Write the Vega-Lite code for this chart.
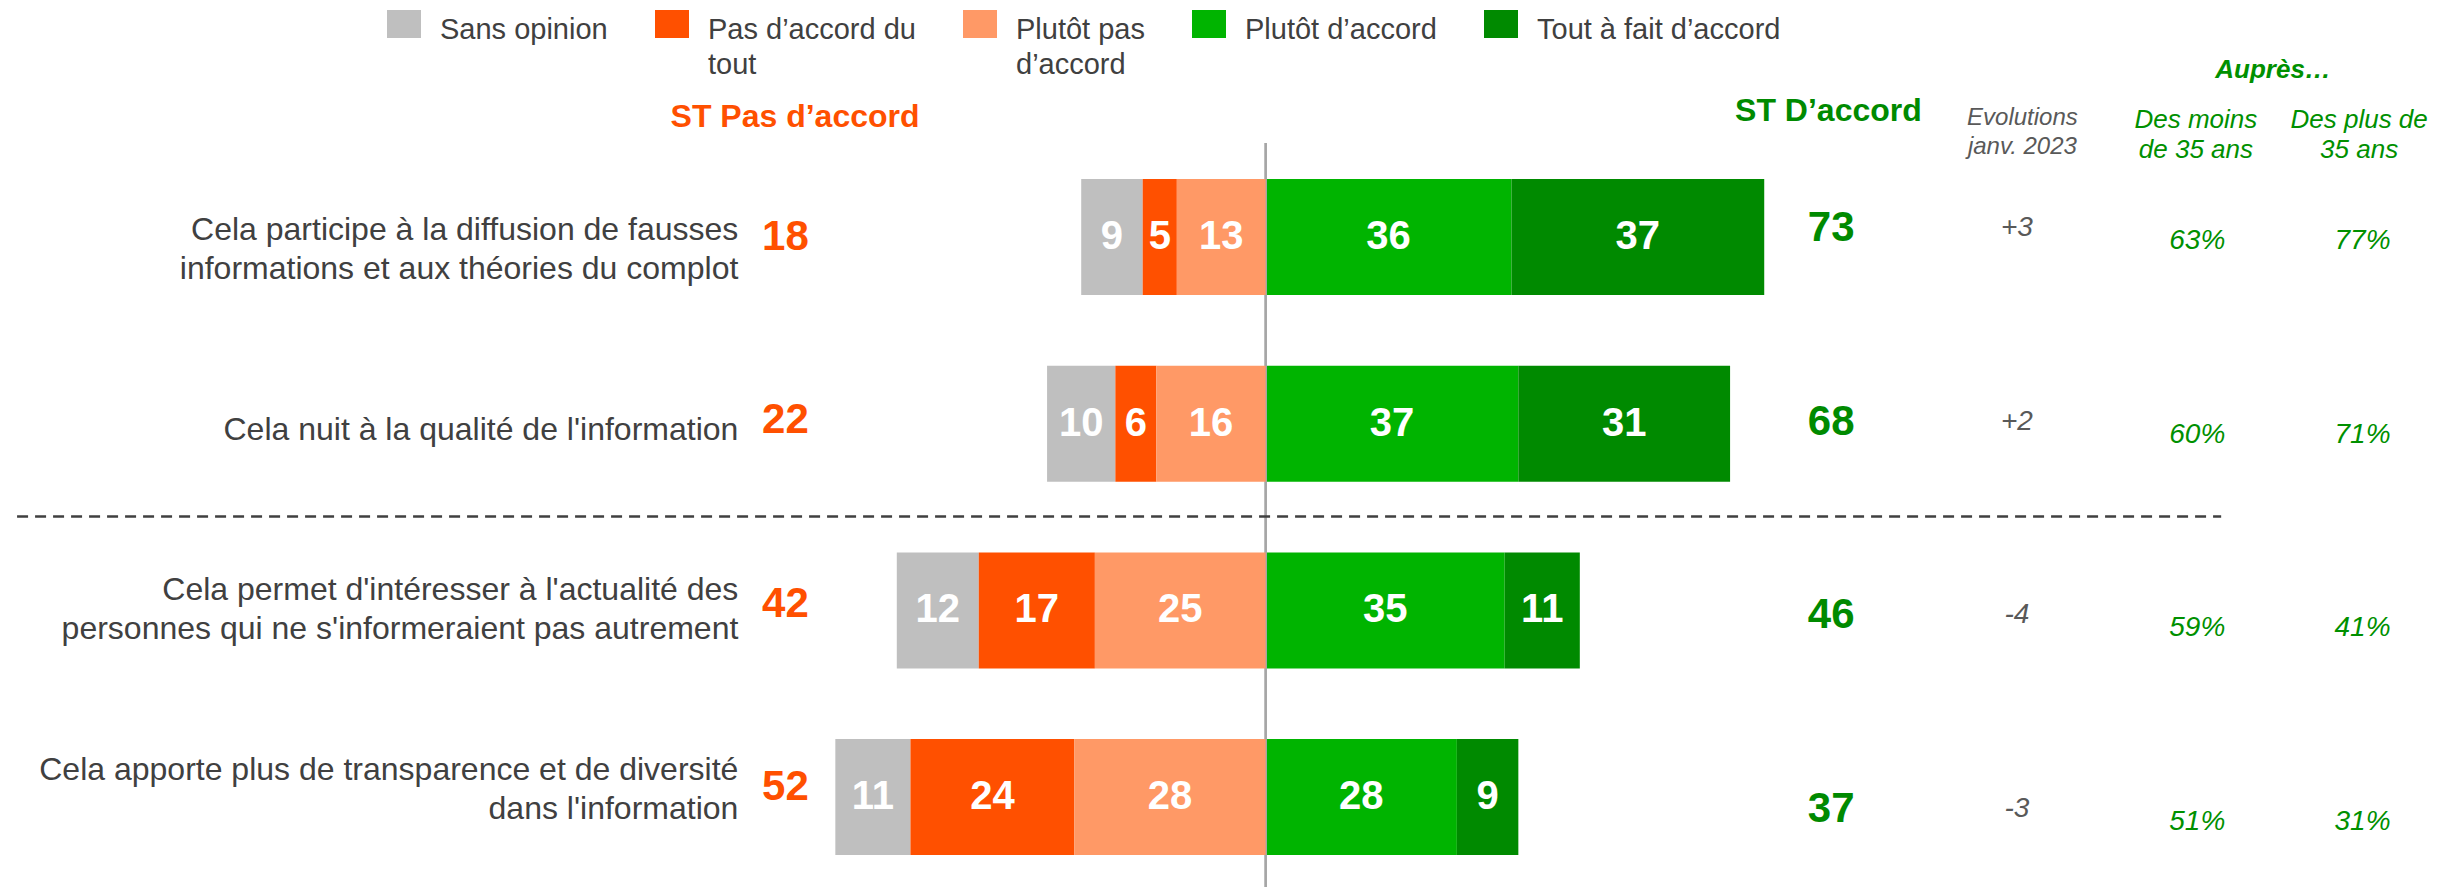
{
  "$schema": "https://vega.github.io/schema/vega-lite/v6.json",
  "width": 2437,
  "height": 887,
  "autosize": "none",
  "padding": 0,
  "background": "white",
  "config": {
    "font": "Liberation Sans",
    "view": {"stroke": null},
    "axis": {"disable": true},
    "locale": {"number": {"decimal": ",", "thousands": " ", "grouping": [3], "currency": ["", " €"], "minus": "-"}}
  },
  "datasets": {
    "statements": [
      {"id": "r1", "label": ["Cela participe à la diffusion de fausses", "informations et aux théories du complot"], "st_pas": 18, "st_acc": 73, "evol": 3, "moins35": 0.63, "plus35": 0.77},
      {"id": "r2", "label": ["Cela nuit à la qualité de l'information"], "st_pas": 22, "st_acc": 68, "evol": 2, "moins35": 0.60, "plus35": 0.71},
      {"id": "r3", "label": ["Cela permet d'intéresser à l'actualité des", "personnes qui ne s'informeraient pas autrement"], "st_pas": 42, "st_acc": 46, "evol": -4, "moins35": 0.59, "plus35": 0.41},
      {"id": "r4", "label": ["Cela apporte plus de transparence et de diversité", "dans l'information"], "st_pas": 52, "st_acc": 37, "evol": -3, "moins35": 0.51, "plus35": 0.31}
    ],
    "responses": [
      {"id": "r1", "cat": "Sans opinion", "value": 9},
      {"id": "r1", "cat": "Pas d’accord du tout", "value": 5},
      {"id": "r1", "cat": "Plutôt pas d’accord", "value": 13},
      {"id": "r1", "cat": "Plutôt d’accord", "value": 36},
      {"id": "r1", "cat": "Tout à fait d’accord", "value": 37},
      {"id": "r2", "cat": "Sans opinion", "value": 10},
      {"id": "r2", "cat": "Pas d’accord du tout", "value": 6},
      {"id": "r2", "cat": "Plutôt pas d’accord", "value": 16},
      {"id": "r2", "cat": "Plutôt d’accord", "value": 37},
      {"id": "r2", "cat": "Tout à fait d’accord", "value": 31},
      {"id": "r3", "cat": "Sans opinion", "value": 12},
      {"id": "r3", "cat": "Pas d’accord du tout", "value": 17},
      {"id": "r3", "cat": "Plutôt pas d’accord", "value": 25},
      {"id": "r3", "cat": "Plutôt d’accord", "value": 35},
      {"id": "r3", "cat": "Tout à fait d’accord", "value": 11},
      {"id": "r4", "cat": "Sans opinion", "value": 11},
      {"id": "r4", "cat": "Pas d’accord du tout", "value": 24},
      {"id": "r4", "cat": "Plutôt pas d’accord", "value": 28},
      {"id": "r4", "cat": "Plutôt d’accord", "value": 28},
      {"id": "r4", "cat": "Tout à fait d’accord", "value": 9}
    ],
    "levels": [
      {"cat": "Sans opinion", "level": 0},
      {"cat": "Pas d’accord du tout", "level": 1},
      {"cat": "Plutôt pas d’accord", "level": 2},
      {"cat": "Plutôt d’accord", "level": 3},
      {"cat": "Tout à fait d’accord", "level": 4}
    ]
  },
  "layer": [
    {
      "layer": [
        {
          "data": {"name": "responses"},
          "transform": [
            {"lookup": "cat", "from": {"data": {"name": "levels"}, "key": "cat", "fields": ["level"]}},
            {"filter": "datum.level >= 3"}
          ],
          "mark": {"type": "bar", "strokeWidth": 0},
          "encoding": {
            "y": {"field": "id", "type": "nominal", "axis": null, "scale": {"domain": ["r1", "r2", "r3", "r4"], "paddingInner": 0.3787, "paddingOuter": 0.5648, "align": 0.8487}},
            "x": {"field": "value", "type": "quantitative", "stack": "zero", "axis": null, "scale": {"domain": [-185.3, 171.5], "nice": false, "zero": false}},
            "color": {
              "field": "cat", "type": "nominal",
              "scale": {"domain": ["Sans opinion", "Pas d’accord du tout", "Plutôt pas d’accord", "Plutôt d’accord", "Tout à fait d’accord"], "range": ["#BFBFBF", "#FF5000", "#FF9966", "#00B400", "#008A00"]},
              "legend": {
                "orient": "none", "legendX": 387, "legendY": -1, "direction": "horizontal", "title": null,
                "symbolType": "M-1,-0.353H1V1.294H-1Z", "symbolSize": 1156, "symbolStrokeWidth": 0, "symbolOpacity": 1,
                "labelFontSize": 29, "labelColor": "#404040", "labelLimit": 500, "labelOffset": 19, "columnPadding": 47,
                "padding": 0, "labelBaseline": "top",
                "labelExpr": "datum.label == 'Pas d’accord du tout' ? ['Pas d’accord du', 'tout'] : datum.label == 'Plutôt pas d’accord' ? ['Plutôt pas', 'd’accord'] : [datum.label, '']",
                "encode": {"labels": {"update": {"lineHeight": {"value": 35}}}}
              }
            },
            "order": {"field": "level", "sort": "ascending"}
          }
        },
        {
          "data": {"name": "responses"},
          "transform": [
            {"lookup": "cat", "from": {"data": {"name": "levels"}, "key": "cat", "fields": ["level"]}},
            {"filter": "datum.level >= 3"}
          ],
          "mark": {"type": "text", "color": "white", "fontWeight": "bold", "fontSize": 40, "baseline": "middle"},
          "encoding": {
            "y": {"field": "id", "type": "nominal", "axis": null},
            "x": {"field": "value", "type": "quantitative", "stack": "zero", "bandPosition": 0.5, "axis": null},
            "detail": {"field": "cat"},
            "order": {"field": "level", "sort": "ascending"},
            "text": {"field": "value", "type": "quantitative"}
          }
        },
        {
          "data": {"values": [{}]},
          "mark": {"type": "rule", "color": "#A6A6A6", "strokeWidth": 2.7},
          "encoding": {
            "x": {"datum": 0, "type": "quantitative"},
            "y": {"datum": "r1", "type": "nominal", "bandPosition": -0.31},
            "y2": {"datum": "r4", "bandPosition": 1.28}
          }
        },
        {
          "data": {"values": [{}]},
          "mark": {"type": "rule", "color": "#404040", "strokeWidth": 2.5, "strokeDash": [11, 7]},
          "encoding": {
            "x": {"datum": -182.8, "type": "quantitative"},
            "x2": {"datum": 139.9},
            "y": {"datum": "r2", "type": "nominal", "bandPosition": 1.3}
          }
        },
        {
          "data": {"values": [{}]},
          "mark": {"type": "text", "text": "ST Pas d’accord", "color": "#FF5000", "fontWeight": "bold", "fontSize": 32, "dy": -119.5},
          "encoding": {"x": {"datum": -68.9, "type": "quantitative"}, "y": {"datum": "r1", "type": "nominal"}}
        },
        {
          "data": {"values": [{}]},
          "mark": {"type": "text", "text": "ST D’accord", "color": "#008A00", "fontWeight": "bold", "fontSize": 32, "dy": -125.5},
          "encoding": {"x": {"datum": 82.4, "type": "quantitative"}, "y": {"datum": "r1", "type": "nominal"}}
        },
        {
          "data": {"values": [{}]},
          "mark": {"type": "text", "text": ["Evolutions", "janv. 2023"], "color": "#595959", "fontStyle": "italic", "fontSize": 24, "lineHeight": 29, "dy": -118.5},
          "encoding": {"x": {"datum": 110.8, "type": "quantitative"}, "y": {"datum": "r1", "type": "nominal"}}
        },
        {
          "data": {"values": [{}]},
          "mark": {"type": "text", "text": "Auprès…", "color": "#009000", "fontStyle": "italic", "fontWeight": "bold", "fontSize": 26, "dy": -167},
          "encoding": {"x": {"datum": 147.5, "type": "quantitative"}, "y": {"datum": "r1", "type": "nominal"}}
        },
        {
          "data": {"values": [{}]},
          "mark": {"type": "text", "text": ["Des moins", "de 35 ans"], "color": "#009000", "fontStyle": "italic", "fontSize": 26, "lineHeight": 30, "dy": -116.5},
          "encoding": {"x": {"datum": 136.2, "type": "quantitative"}, "y": {"datum": "r1", "type": "nominal"}}
        },
        {
          "data": {"values": [{}]},
          "mark": {"type": "text", "text": ["Des plus de", "35 ans"], "color": "#009000", "fontStyle": "italic", "fontSize": 26, "lineHeight": 30, "dy": -116.5},
          "encoding": {"x": {"datum": 160.1, "type": "quantitative"}, "y": {"datum": "r1", "type": "nominal"}}
        }
      ]
    },
    {
      "layer": [
        {
          "data": {"name": "responses"},
          "transform": [
            {"lookup": "cat", "from": {"data": {"name": "levels"}, "key": "cat", "fields": ["level"]}},
            {"filter": "datum.level <= 2"}
          ],
          "mark": {"type": "bar", "strokeWidth": 0},
          "encoding": {
            "y": {"field": "id", "type": "nominal", "axis": null, "scale": {"domain": ["r1", "r2", "r3", "r4"], "paddingInner": 0.3787, "paddingOuter": 0.5648, "align": 0.8487}},
            "x": {"field": "value", "type": "quantitative", "stack": "zero", "axis": null, "scale": {"domain": [-171.5, 185.3], "reverse": true, "nice": false, "zero": false}},
            "color": {"field": "cat", "type": "nominal"},
            "order": {"field": "level", "sort": "descending"}
          }
        },
        {
          "data": {"name": "responses"},
          "transform": [
            {"lookup": "cat", "from": {"data": {"name": "levels"}, "key": "cat", "fields": ["level"]}},
            {"filter": "datum.level <= 2"}
          ],
          "mark": {"type": "text", "color": "white", "fontWeight": "bold", "fontSize": 40, "baseline": "middle"},
          "encoding": {
            "y": {"field": "id", "type": "nominal", "axis": null},
            "x": {"field": "value", "type": "quantitative", "stack": "zero", "bandPosition": 0.5, "axis": null},
            "detail": {"field": "cat"},
            "order": {"field": "level", "sort": "descending"},
            "text": {"field": "value", "type": "quantitative"}
          }
        }
      ]
    },
    {
      "data": {"name": "statements"},
      "encoding": {
        "y": {"field": "id", "type": "nominal", "axis": null, "scale": {"type": "point", "domain": ["r1", "r2", "r3", "r4"], "padding": 0.79, "align": 0.745}}
      },
      "layer": [
        {
          "mark": {"type": "text", "color": "#008A00", "fontWeight": "bold", "fontSize": 42},
          "encoding": {"x": {"datum": 82.8, "type": "quantitative", "scale": {"domain": [-185.3, 171.5], "nice": false, "zero": false}}, "text": {"field": "st_acc", "type": "quantitative"}}
        },
        {
          "mark": {"type": "text", "color": "#595959", "fontStyle": "italic", "fontSize": 28},
          "encoding": {"x": {"datum": 110.0, "type": "quantitative"}, "text": {"field": "evol", "type": "quantitative", "format": "+d"}}
        },
        {
          "mark": {"type": "text", "color": "#009000", "fontStyle": "italic", "fontSize": 28, "dy": 13},
          "encoding": {"x": {"datum": 136.4, "type": "quantitative"}, "text": {"field": "moins35", "type": "quantitative", "format": ".0%"}}
        },
        {
          "mark": {"type": "text", "color": "#009000", "fontStyle": "italic", "fontSize": 28, "dy": 13},
          "encoding": {"x": {"datum": 160.6, "type": "quantitative"}, "text": {"field": "plus35", "type": "quantitative", "format": ".0%"}}
        }
      ]
    },
    {
      "data": {"name": "statements"},
      "mark": {"type": "text", "color": "#FF5000", "fontWeight": "bold", "fontSize": 42},
      "encoding": {
        "y": {"field": "id", "type": "nominal", "axis": null, "scale": {"type": "point", "domain": ["r1", "r2", "r3", "r4"], "padding": 0.9195, "align": 0.703}},
        "x": {"datum": -70.3, "type": "quantitative", "scale": {"domain": [-185.3, 171.5], "nice": false, "zero": false}},
        "text": {"field": "st_pas", "type": "quantitative"}
      }
    },
    {
      "data": {"name": "statements"},
      "encoding": {
        "y": {"field": "id", "type": "nominal", "axis": null, "scale": {"type": "point", "domain": ["r1", "r2", "r3", "r4"], "padding": 0.964, "align": 0.663}},
        "x": {"datum": -77.2, "type": "quantitative", "scale": {"domain": [-185.3, 171.5], "nice": false, "zero": false}},
        "text": {"field": "label", "type": "nominal"}
      },
      "layer": [
        {
          "transform": [{"filter": "length(datum.label) > 1"}],
          "mark": {"type": "text", "color": "#404040", "fontSize": 32, "lineHeight": 39, "align": "right"}
        },
        {
          "transform": [{"filter": "length(datum.label) == 1"}],
          "mark": {"type": "text", "color": "#404040", "fontSize": 32, "lineHeight": 39, "align": "right", "dy": 19.5}
        }
      ]
    }
  ],
  "resolve": {"scale": {"x": "independent", "y": "independent"}}
}
